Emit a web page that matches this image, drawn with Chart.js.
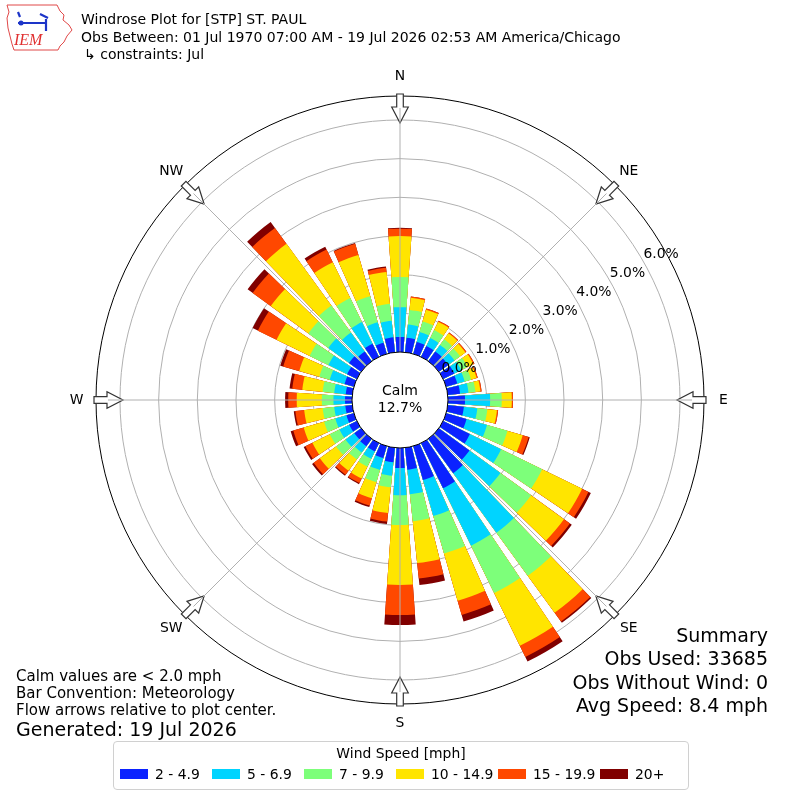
<!DOCTYPE html>
<html lang="en">
<head>
<meta charset="UTF-8">
<title>Windrose Plot for [STP] ST. PAUL</title>
<style>
    body { margin: 0; background: #fff; font-family: "DejaVu Sans", sans-serif; }
    #wrap { position: relative; width: 800px; height: 800px; overflow: hidden; }
    #rose { position: absolute; left: 0; top: 0; }
    .txt { position: absolute; white-space: nowrap; line-height: 1; color: #000; }
    .title { left: 81px; font-size: 14px; }
    .note { left: 16px; font-size: 15px; }
    .summary { right: 32px; font-size: 19px; text-align: right; }
    #logo { position: absolute; left: 0; top: 0; }
    #legend { position: absolute; left: 113px; top: 741px; width: 574px; height: 47px;
              border: 1px solid #d0d0d0; border-radius: 4px; background: #fff; }
    #legend .ltitle { position: absolute; left: 0; right: 0; top: 5px; text-align: center; font-size: 13.9px; line-height: 1; }
    #legend .sw { position: absolute; top: 27px; width: 28px; height: 10px; }
    #legend .lab { position: absolute; top: 26px; font-size: 13.9px; line-height: 1; white-space: nowrap; }
</style>
</head>
<body>
<div id="wrap">
    <canvas id="rose" width="800" height="800"></canvas>

    <svg id="logo" width="76" height="55" viewBox="0 0 76 55">
        <path d="M7 5 L57 5 L60 11 L64 15 L63 20 L69 25 L72 30 L67 36 L64 42 L60 46 L58 50 L14 50 L12 44 L10 36 L8 28 L7 18 L9 12 Z"
              fill="none" stroke="#e04848" stroke-width="1"/>
        <path d="M18 23 L46 23 M46 19 L46 31 M18 12 L20 17 M40 14 L48 18" stroke="#1d35c8" stroke-width="2.2" fill="none"/>
        <circle cx="21" cy="23" r="2.5" fill="#1d35c8"/>
        <text x="14" y="45" font-family="Liberation Serif" font-style="italic" font-size="16" fill="#e03030">IEM</text>
    </svg>

    <div class="txt title" style="top:12px">Windrose Plot for [STP] ST. PAUL</div>
    <div class="txt title" style="top:30px">Obs Between: 01 Jul 1970 07:00 AM - 19 Jul 2026 02:53 AM America/Chicago</div>
    <div class="txt title" style="top:47px; left:84px">↳ constraints: Jul</div>

    <div class="txt note" style="top:669px">Calm values are &lt; 2.0 mph</div>
    <div class="txt note" style="top:686px">Bar Convention: Meteorology</div>
    <div class="txt note" style="top:703px">Flow arrows relative to plot center.</div>
    <div class="txt note" style="top:720px; font-size:19px">Generated: 19 Jul 2026</div>

    <div class="txt summary" style="top:626px">Summary</div>
    <div class="txt summary" style="top:649px">Obs Used: 33685</div>
    <div class="txt summary" style="top:673px">Obs Without Wind: 0</div>
    <div class="txt summary" style="top:696px">Avg Speed: 8.4 mph</div>

    <div id="legend"><div class="ltitle">Wind Speed [mph]</div></div>
</div>

<script src="https://cdn.jsdelivr.net/npm/chart.js"></script>
<script>
// wind direction bins (degrees, meteorological: direction wind blows from)
const directions = [0, 10, 20, 30, 40, 50, 60, 70, 80, 90, 100, 110, 120, 130, 140, 150, 160, 170,
                    180, 190, 200, 210, 220, 230, 240, 250, 260, 270, 280, 290, 300, 310, 320, 330, 340, 350];
const speedBins = ['2 - 4.9', '5 - 6.9', '7 - 9.9', '10 - 14.9', '15 - 19.9', '20+'];

// percent of all observations, per direction, per speed bin
const bin2to5   = [0.39, 0.38, 0.32, 0.31, 0.31, 0.30, 0.32, 0.30, 0.32, 0.44, 0.42, 0.55, 0.77, 0.98, 1.10, 1.30, 0.91, 0.57,
                   0.52, 0.38, 0.32, 0.24, 0.24, 0.22, 0.22, 0.20, 0.18, 0.18, 0.17, 0.25, 0.28, 0.39, 0.31, 0.38, 0.30, 0.39];
const bin5to7   = [0.77, 0.34, 0.27, 0.23, 0.21, 0.20, 0.20, 0.20, 0.22, 0.65, 0.35, 0.55, 0.90, 0.99, 1.90, 1.65, 0.97, 0.64,
                   0.70, 0.35, 0.32, 0.21, 0.20, 0.28, 0.28, 0.30, 0.29, 0.30, 0.30, 0.40, 0.54, 0.66, 0.61, 0.62, 0.55, 0.43];
const bin7to10  = [0.78, 0.38, 0.28, 0.23, 0.18, 0.18, 0.18, 0.17, 0.18, 0.30, 0.26, 0.55, 1.18, 0.98, 1.38, 1.36, 1.01, 0.70,
                   0.77, 0.30, 0.33, 0.23, 0.22, 0.30, 0.28, 0.30, 0.30, 0.30, 0.30, 0.28, 0.54, 0.64, 0.86, 0.69, 0.70, 0.44];
const bin10to15 = [1.06, 0.32, 0.32, 0.24, 0.19, 0.17, 0.17, 0.15, 0.13, 0.26, 0.25, 0.41, 1.15, 1.05, 1.18, 1.52, 1.27, 1.09,
                   1.55, 0.67, 0.43, 0.34, 0.36, 0.52, 0.50, 0.55, 0.48, 0.65, 0.53, 0.54, 0.95, 1.20, 1.97, 1.03, 1.11, 0.83];
const bin15to20 = [0.19, 0.03, 0.03, 0.03, 0.03, 0.03, 0.03, 0.03, 0.03, 0.03, 0.03, 0.16, 0.18, 0.19, 0.28, 0.32, 0.38, 0.40,
                   0.78, 0.22, 0.20, 0.13, 0.13, 0.20, 0.20, 0.28, 0.23, 0.22, 0.26, 0.43, 0.54, 0.58, 0.51, 0.37, 0.30, 0.11];
const bin20plus = [0.02, 0.00, 0.00, 0.00, 0.00, 0.00, 0.00, 0.00, 0.00, 0.00, 0.00, 0.03, 0.07, 0.06, 0.04, 0.13, 0.18, 0.17,
                   0.26, 0.06, 0.04, 0.03, 0.03, 0.05, 0.05, 0.07, 0.04, 0.08, 0.07, 0.08, 0.15, 0.16, 0.19, 0.08, 0.02, 0.03];

const calmPct = 12.7;
const ringTicks = [0, 1, 2, 3, 4, 5, 6];
const compassLabels = ['N', 'NE', 'E', 'SE', 'S', 'SW', 'W', 'NW'];
const compassBearings = [0, 45, 90, 135, 180, 225, 270, 315];

const binColors = ['#0b22ff', '#00d4ff', '#7dff7a', '#ffe500', '#ff4800', '#800000'];

// radial axis limits: the calm circle sits below 0 %
const rMin = -1.241;
const rMax = 6.62;
const barAngle = 8;            // degrees per bar, the rest of the 10 deg sector is a gap

// legend (html)
const legendX = [6, 98, 190, 282, 384, 486];
const legendBox = document.getElementById('legend');
speedBins.forEach((name, k) => {
    const sw = document.createElement('div');
    sw.className = 'sw';
    sw.style.left = legendX[k] + 'px';
    sw.style.background = binColors[k];
    legendBox.appendChild(sw);
    const lab = document.createElement('div');
    lab.className = 'lab';
    lab.style.left = (legendX[k] + 35) + 'px';
    lab.textContent = name;
    legendBox.appendChild(lab);
});

// stacked bars are drawn as overlaid cumulative arcs, smallest on top
const labels = [];
directions.forEach(d => { labels.push(d + '°'); labels.push(''); });

const bins = [bin2to5, bin5to7, bin7to10, bin10to15, bin15to20, bin20plus];
let running = directions.map(() => 0);
const datasets = bins.map((b, k) => {
    running = running.map((v, i) => v + b[i]);
    const data = [];
    running.forEach(v => { data.push(v); data.push(0); });
    return {
        label: speedBins[k],
        data: data,
        backgroundColor: ctx => (ctx.dataIndex % 2 ? 'rgba(0,0,0,0)' : binColors[k]),
        borderWidth: 0,
        angle: ctx => (ctx.dataIndex % 2 ? 10 - barAngle : barAngle)
    };
});

const roseDecor = {
    id: 'roseDecor',
    afterDraw(chart) {
        const s = chart.scales.r;
        const ctx = chart.ctx;
        const cx = s.xCenter, cy = s.yCenter, R = s.drawingArea;
        const r0 = s.getDistanceFromCenterForValue(0);
        ctx.save();

        // outer frame
        ctx.strokeStyle = '#000';
        ctx.lineWidth = 1;
        ctx.beginPath();
        ctx.arc(cx, cy, R, 0, 2 * Math.PI);
        ctx.stroke();

        // flow arrows
        compassBearings.forEach(b => {
            const a = b * Math.PI / 180;
            const ux = Math.sin(a), uy = -Math.cos(a);
            const px = Math.cos(a), py = Math.sin(a);
            const pts = [[R + 2, -3.3], [R - 11, -3.3], [R - 11, -8.3], [R - 27, 0],
                         [R - 11, 8.3], [R - 11, 3.3], [R + 2, 3.3]];
            ctx.beginPath();
            pts.forEach((p, i) => {
                const x = cx + ux * p[0] + px * p[1];
                const y = cy + uy * p[0] + py * p[1];
                if (i) ctx.lineTo(x, y); else ctx.moveTo(x, y);
            });
            ctx.closePath();
            ctx.fillStyle = '#fff';
            ctx.fill();
            ctx.strokeStyle = '#333';
            ctx.lineWidth = 1.2;
            ctx.stroke();
        });

        // angle lines
        ctx.strokeStyle = '#b0b0b0';
        ctx.lineWidth = 1;
        compassBearings.forEach(b => {
            const a = (b - 90) * Math.PI / 180;
            ctx.beginPath();
            ctx.moveTo(cx, cy);
            ctx.lineTo(cx + (R - 12) * Math.cos(a), cy + (R - 12) * Math.sin(a));
            ctx.stroke();
        });

        // calm circle
        ctx.fillStyle = '#fff';
        ctx.strokeStyle = '#000';
        ctx.beginPath();
        ctx.arc(cx, cy, r0, 0, 2 * Math.PI);
        ctx.fill();
        ctx.stroke();

        ctx.fillStyle = '#000';
        ctx.textAlign = 'center';
        ctx.textBaseline = 'middle';
        ctx.font = '14px "DejaVu Sans"';
        ctx.fillText('Calm', cx, cy - 9);
        ctx.fillText(calmPct.toFixed(1) + '%', cx, cy + 8);

        // ring labels
        ctx.font = '13.9px "DejaVu Sans"';
        const la = 29.5 * Math.PI / 180;
        s.ticks.forEach(t => {
            const d = s.getDistanceFromCenterForValue(t.value) + 20;
            ctx.fillText(t.value.toFixed(1) + '%', cx + d * Math.cos(la), cy - d * Math.sin(la) + 2);
        });

        // compass labels
        compassBearings.forEach((b, i) => {
            const a = (b - 90) * Math.PI / 180;
            const d = R + 19.5;
            ctx.fillText(compassLabels[i], cx + d * Math.cos(a), cy + d * Math.sin(a));
        });
        ctx.restore();
    }
};

new Chart(document.getElementById('rose'), {
    type: 'polarArea',
    data: { labels: labels, datasets: datasets },
    options: {
        responsive: false,
        animation: false,
        events: [],
        layout: { padding: 96 },
        plugins: {
            legend: { display: false },
            tooltip: { enabled: false }
        },
        scales: {
            r: {
                min: rMin,
                max: rMax,
                startAngle: -barAngle / 2,
                z: 1,
                afterBuildTicks: scale => { scale.ticks = ringTicks.map(v => ({ value: v })); },
                ticks: { display: false },
                grid: { color: '#b0b0b0', lineWidth: 1 },
                angleLines: { display: false },
                pointLabels: { display: false }
            }
        }
    },
    plugins: [roseDecor]
});
</script>
</body>
</html>
